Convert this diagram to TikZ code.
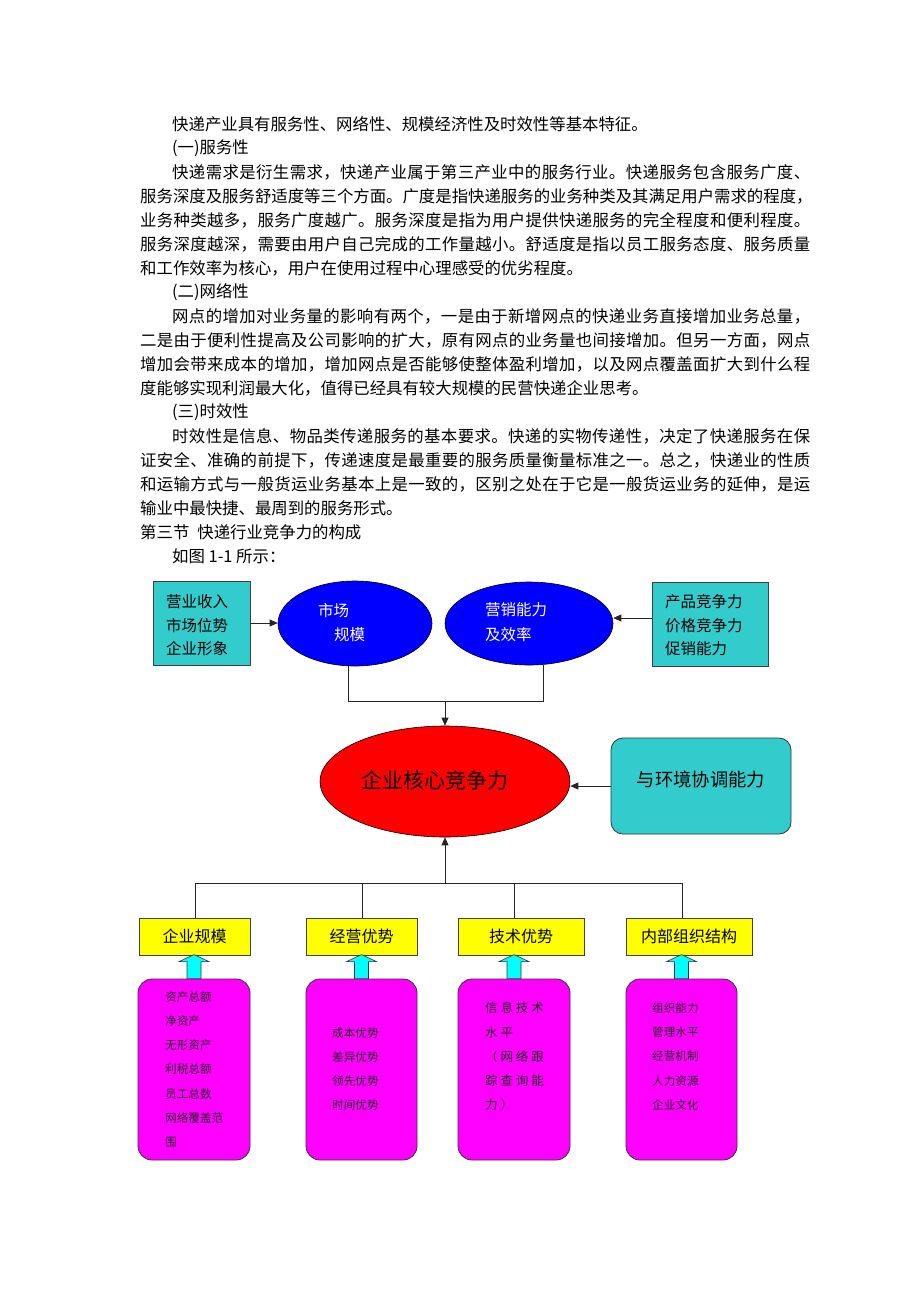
\documentclass[tikz,border=0pt]{standalone}
\usepackage{fontspec}
\setmainfont{Noto Sans CJK SC}
\usetikzlibrary{shapes.geometric,arrows.meta}
\definecolor{tealc}{HTML}{33CCCC}
\definecolor{blueell}{HTML}{0000FF}
\definecolor{redell}{HTML}{FF0000}
\definecolor{yelc}{HTML}{FFFF00}
\definecolor{magc}{HTML}{FF00FF}
\definecolor{cyanc}{HTML}{00FFFF}
\newcommand{\fsz}[2]{\fontsize{#1}{#2}\selectfont}
\makeatletter
\def\spreadit#1{\spr@#1\relax}
\def\spr@#1{\ifx\relax#1\unskip\else#1\hskip0pt plus 1fil\relax\expandafter\spr@\fi}
\makeatother
\newcommand{\fullA}[1]{\makebox[638pt][s]{\spreadit{#1}}}
\newcommand{\fullB}[1]{\makebox[670pt][s]{\spreadit{#1}}}
\newcommand{\gp}{\hspace{2.8pt}}
\begin{document}
\begin{tikzpicture}[x=1pt,y=-1pt,
  body/.style={anchor=west, inner sep=0pt, font=\fsz{16.4}{18}},
  tealbox/.style={draw=black!75, fill=tealc, line width=0.8pt, inner sep=0pt},
  ell/.style={ellipse, draw=black, line width=0.6pt, inner sep=0pt},
  lbl/.style={anchor=west, inner sep=0pt, align=left},
  con/.style={line width=0.7pt, draw=black!85},
  arr/.style={con, -{Triangle[length=8pt,width=7pt]}},
  yelbox/.style={draw=black!75, fill=yelc, line width=0.8pt, inner sep=0pt, minimum height=37pt, font=\fsz{16}{18}},
  magbox/.style={draw=black!80, fill=magc, line width=0.8pt, rounded corners=14pt, minimum height=181pt, inner sep=0pt},
  magtxt/.style={lbl, font=\fsz{11.6}{24.2}, text=black!85},
  barrow/.style={draw=black!80, fill=cyanc, line width=0.6pt}
]
\useasboundingbox (0,0) rectangle (920,1302);
\fill[white] (0,0) rectangle (920,1302);

% ---- body text ----
\node[body] (t1) at (172,124) {快递产业具有服务性、网络性、规模经济性及时效性等基本特征。};
\node[body] (t2) at (172,148) {(一)服务性};
\node[body] (t3) at (172,172) {\fullA{快递需求是衍生需求，快递产业属于第三产业中的服务行业。快递服务包含服务广度、}};
\node[body] (t4) at (140,196) {\fullB{服务深度及服务舒适度等三个方面。广度是指快递服务的业务种类及其满足用户需求的程度，}};
\node[body] (t5) at (140,220) {\fullB{业务种类越多，服务广度越广。服务深度是指为用户提供快递服务的完全程度和便利程度。}};
\node[body] (t6) at (140,244) {\fullB{服务深度越深，需要由用户自己完成的工作量越小。舒适度是指以员工服务态度、服务质量}};
\node[body] (t7) at (140,268) {和工作效率为核心，用户在使用过程中心理感受的优劣程度。};
\node[body] (t8) at (172,292) {(二)网络性};
\node[body] (t9) at (172,316) {\fullA{网点的增加对业务量的影响有两个，一是由于新增网点的快递业务直接增加业务总量，}};
\node[body] (t10) at (140,340) {\fullB{二是由于便利性提高及公司影响的扩大，原有网点的业务量也间接增加。但另一方面，网点}};
\node[body] (t11) at (140,364) {\fullB{增加会带来成本的增加，增加网点是否能够使整体盈利增加，以及网点覆盖面扩大到什么程}};
\node[body] (t12) at (140,388) {度能够实现利润最大化，值得已经具有较大规模的民营快递企业思考。};
\node[body] (t13) at (172,412) {(三)时效性};
\node[body] (t14) at (172,436) {\fullA{时效性是信息、物品类传递服务的基本要求。快递的实物传递性，决定了快递服务在保}};
\node[body] (t15) at (140,460) {\fullB{证安全、准确的前提下，传递速度是最重要的服务质量衡量标准之一。总之，快递业的性质}};
\node[body] (t16) at (140,484) {\fullB{和运输方式与一般货运业务基本上是一致的，区别之处在于它是一般货运业务的延伸，是运}};
\node[body] (t17) at (140,508) {输业中最快捷、最周到的服务形式。};
\node[body] (t18) at (140,532) {第三节\hspace{8pt}快递行业竞争力的构成};
\node[body] (t19) at (172,556) {如图 1-1 所示：};

% ---- top row ----
\node[tealbox, minimum width=97pt, minimum height=84pt] (lb) at (201.5,623) {};
\node[lbl, font=\fsz{15.5}{23.5}] (lbt) at (166,625.5) {营业收入\\市场位势\\企业形象};
\node[ell, fill=blueell, minimum width=154pt, minimum height=85pt] (e1) at (355,623.5) {};
\node[lbl, font=\fsz{15.5}{18}, text=white] (e1a) at (318,611) {市场};
\node[lbl, font=\fsz{15.5}{18}, text=white] (e1b) at (334,635) {规模};
\node[ell, fill=blueell, minimum width=168pt, minimum height=83pt] (e2) at (529,623.5) {};
\node[lbl, font=\fsz{15.5}{18}, text=white] (e2a) at (485,610) {营销能力};
\node[lbl, font=\fsz{15.5}{18}, text=white] (e2b) at (485,635) {及效率};
\node[tealbox, minimum width=116pt, minimum height=84pt] (rb) at (710,624) {};
\node[lbl, font=\fsz{15.5}{23.5}] (rbt) at (665,625.5) {产品竞争力\\价格竞争力\\促销能力};

\draw[arr] (lb.east) -- (lb.east -| e1.west);
\draw[arr] (rb.west |- 0,618) -- (e2.east |- 0,618);

\coordinate (j1) at (348,701);
\coordinate (j2) at (543,701);
\coordinate (jm) at (445,701);
\draw[con] (e1.south -| j1) -- (j1) -- (j2) -- (e2.south -| j2);

% ---- core ----
\node[ell, fill=redell, minimum width=250pt, minimum height=111pt] (core) at (445,781.5) {};
\node[inner sep=0pt, font=\fsz{21}{24}] (coret) at (434.5,780) {企业核心竞争力};
\draw[arr] (jm) -- (core.north);

\node[draw=black!80, fill=tealc, line width=0.8pt, rounded corners=12pt, minimum width=180pt, minimum height=96pt] (env) at (701,786) {};
\node[inner sep=0pt, font=\fsz{18.3}{20}] (envt) at (701,780) {与环境协调能力};
\draw[arr] (env.west) -- (env.west -| core.east);

% ---- bottom row ----
\node[yelbox, minimum width=111pt] (y1) at (194.5,936.5) {企业规模};
\node[yelbox, minimum width=111pt] (y2) at (361.5,936.5) {经营优势};
\node[yelbox, minimum width=126pt] (y3) at (521,936.5) {技术优势};
\node[yelbox, minimum width=126pt] (y4) at (689,936.5) {内部组织结构};

\coordinate (c1) at (195,883);
\coordinate (c2) at (362,883);
\coordinate (c3) at (514,883);
\coordinate (c4) at (682,883);
\coordinate (cm) at (445,883);
\draw[con] (c1 |- y1.north) -- (c1) -- (c4) -- (c4 |- y4.north);
\draw[con] (c2) -- (c2 |- y2.north);
\draw[con] (c3) -- (c3 |- y3.north);
\draw[arr] (cm) -- (core.south);

\node[magbox, minimum width=112pt] (m1) at (194,1069.5) {};
\node[magbox, minimum width=111pt] (m2) at (361.5,1069.5) {};
\node[magbox, minimum width=112pt] (m3) at (514,1069.5) {};
\node[magbox, minimum width=111pt] (m4) at (681.5,1069.5) {};

\foreach \m in {m1,m2,m3,m4}{
  \draw[barrow] (\m.north) ++(-7,0) -- ++(0,-17) -- ++(-8,0) -- ++(15,-7) -- ++(15,7) -- ++(-8,0) -- ++(0,17) -- cycle;
}

\node[magtxt] (m1t) at (165,1069.5) {资产总额\\净资产\\无形资产\\利税总额\\员工总数\\网络覆盖范\\围};
\node[magtxt] (m2t) at (332,1069) {成本优势\\差异优势\\领先优势\\时间优势};
\node[magtxt, font=\fsz{12.6}{24.2}] (m3t) at (485,1056.5) {信\gp 息\gp 技\gp 术\\水\gp 平\\（\gp 网\gp 络\gp 跟\\踪\gp 查\gp 询\gp 能\\力\gp ）};
\node[magtxt] (m4t) at (652,1056.5) {组织能力\\管理水平\\经营机制\\人力资源\\企业文化};
\end{tikzpicture}
\end{document}
